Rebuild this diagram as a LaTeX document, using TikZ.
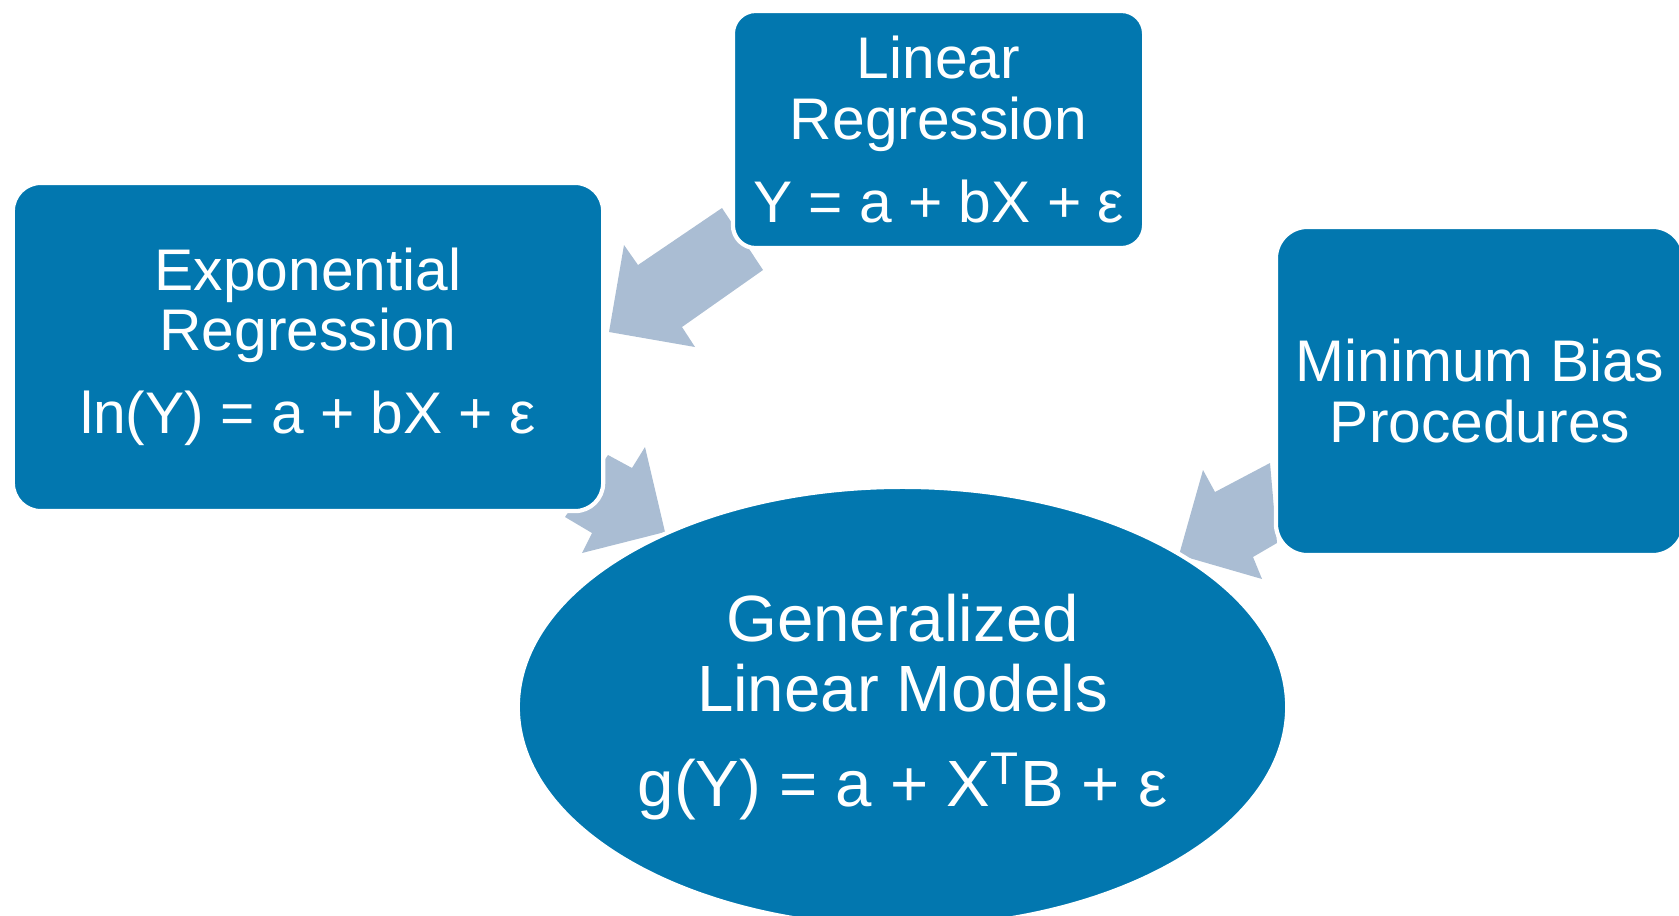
\documentclass[tikz,border=0pt]{standalone}
\usepackage{fontspec}
\setmainfont{Liberation Sans}
\definecolor{boxblue}{RGB}{2,119,175}
\definecolor{arrowgray}{RGB}{170,189,211}
\usetikzlibrary{shapes.geometric}

\begin{document}
\begin{tikzpicture}[
    x=0.01cm, y=-0.01cm,
    box/.style={draw=white, line width=1.2pt, fill=boxblue, text=white, align=center, inner sep=0pt},
    small/.style={font=\fontsize{16.7}{17.1}\selectfont},
    large/.style={font=\fontsize{18.6}{19.9}\selectfont},
    blockarr/.style={fill=arrowgray}
]
    \useasboundingbox (0,0) rectangle (1679,915);

    % Block arrows (drawn first, boxes lie over their tails)
    \fill[blockarr] (722,208) -- (763,270) -- (682,327) -- (695,347) -- (609,332) -- (624,245) -- (638,265) -- cycle;
    \fill[blockarr] (608,455) -- (632,468) -- (645,447) -- (665,532) -- (582,553) -- (592,533) -- (565,517) -- cycle;
    \fill[blockarr] (1270,463) -- (1215,492) -- (1203,470) -- (1179,555) -- (1262,579) -- (1253,557) -- (1277,543) -- cycle;

    % Linear regression
    \node[box, small, rounded corners=6.5pt, minimum width=4.11cm, minimum height=2.37cm] (linreg) at (938.5,129.5)
        {Linear\\Regression\\[6.5pt]Y = a + bX + ε};

    % Exponential regression
    \node[box, small, rounded corners=8pt, minimum width=5.90cm, minimum height=3.28cm] (expreg) at (308,347)
        {Exponential\\Regression\\[6.5pt]ln(Y) = a + bX + ε};

    % Minimum bias
    \node[box, small, rounded corners=9pt, minimum width=4.08cm, minimum height=3.28cm] (minbias) at (1480,391)
        {Minimum Bias\\Procedures};

    % GLM
    \node[box, large, ellipse, minimum width=7.69cm, minimum height=4.40cm] (glm) at (902.5,707)
        {Generalized\\Linear Models\\[7pt]g(Y) = a + X\textsuperscript{T}B + ε};
\end{tikzpicture}
\end{document}
